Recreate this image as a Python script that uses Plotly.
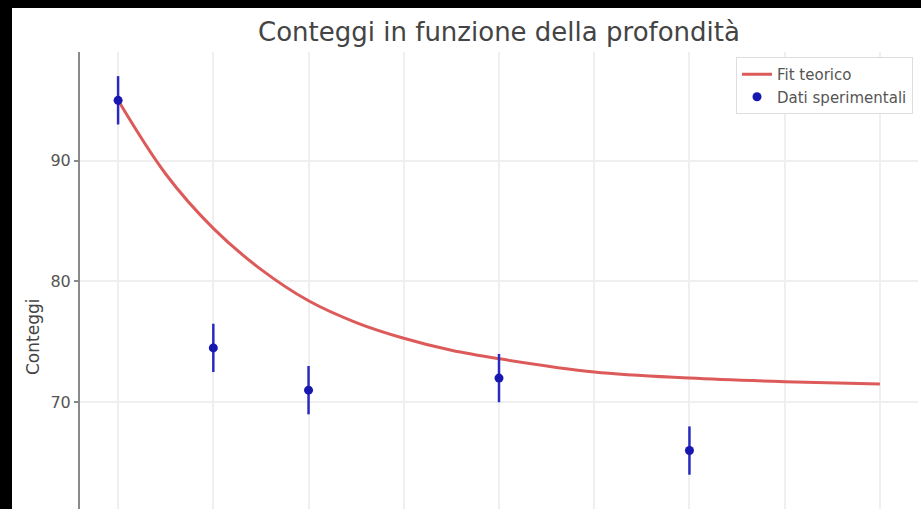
import plotly.graph_objects as go

depth = [0, 1, 2, 4, 6]
counts = [95.0, 74.5, 71.0, 72.0, 66.0]
errors = [2.0, 2.0, 2.0, 2.0, 2.0]

# Theoretical fit curve
fit_x = [0, 0.5, 1, 1.5, 2, 2.5, 3, 3.5, 4, 5, 6, 7, 8]
fit_y = [95.0, 88.9, 84.4, 81.0, 78.4, 76.6, 75.3, 74.3, 73.6, 72.5, 72.0, 71.7, 71.5]

y_ticks = [70, 80, 90]

W, H = 921, 509
L, T, B = 80, 52, 0
R = W - 918
pw, ph = W - L - R, H - T - B


def px_x(p):  # screenshot pixel -> paper x
    return (p - L) / pw


def px_y(p):  # screenshot pixel -> paper y
    return (H - B - p) / ph


fig = go.Figure()
fig.add_trace(go.Scatter(
    x=fit_x, y=fit_y, mode="lines", name="Fit teorico",
    line=dict(color="#dd5a5a", width=3, shape="spline"),
))
fig.add_trace(go.Scatter(
    x=depth, y=counts, mode="markers", name="Dati sperimentali",
    marker=dict(color="#1818b0", size=9, symbol="circle"),
    error_y=dict(type="data", array=errors, visible=True,
                 color="#2a2ac0", thickness=2.5, width=0),
))

fig.update_layout(
    width=W, height=H,
    margin=dict(l=L, r=R, t=T, b=B),
    paper_bgcolor="white", plot_bgcolor="white",
    font=dict(family="DejaVu Sans", color="#555"),
    title=dict(text="Conteggi in funzione della profondità",
               x=0.5, xref="paper", xanchor="center",
               y=1 - 32 / H, yref="container", yanchor="middle",
               font=dict(size=26, color="#444")),
    legend=dict(x=px_x(913), xanchor="right", y=px_y(57), yanchor="top",
                bgcolor="white", bordercolor="#dddddd", borderwidth=1,
                font=dict(size=15, color="#555")),
    showlegend=True,
)
fig.update_xaxes(range=[-0.4, 8.4], dtick=1, showticklabels=False,
                 showgrid=True, gridcolor="#efefef", gridwidth=1.5,
                 zeroline=False, showline=False, ticks="")
fig.update_yaxes(range=[61.16, 99.0], tickvals=y_ticks,
                 showgrid=True, gridcolor="#efefef", gridwidth=1.5,
                 zeroline=False, showline=True, linecolor="#8a8a8a", linewidth=2,
                 ticks="outside", ticklen=4, tickcolor="#8a8a8a", tickwidth=1.5,
                 tickfont=dict(size=16, color="#555"))

fig.add_annotation(text="Conteggi", textangle=-90, showarrow=False,
                   xref="paper", yref="paper", x=px_x(33), y=px_y(337),
                   xanchor="center", yanchor="middle",
                   font=dict(size=17, color="#444"))

# black photo border (left and top)
fig.add_shape(type="rect", xref="paper", yref="paper", layer="above",
              x0=px_x(-2), x1=px_x(12), y0=px_y(H + 2), y1=px_y(-2),
              fillcolor="black", line=dict(width=0))
fig.add_shape(type="rect", xref="paper", yref="paper", layer="above",
              x0=px_x(-2), x1=px_x(W + 2), y0=px_y(8), y1=px_y(-2),
              fillcolor="black", line=dict(width=0))

fig.write_html(
    "out.html",
    config={"displayModeBar": False},
    post_script="document.body.style.margin='0';"
                "document.body.style.overflow='hidden';"
                "document.body.style.background='white';",
)
